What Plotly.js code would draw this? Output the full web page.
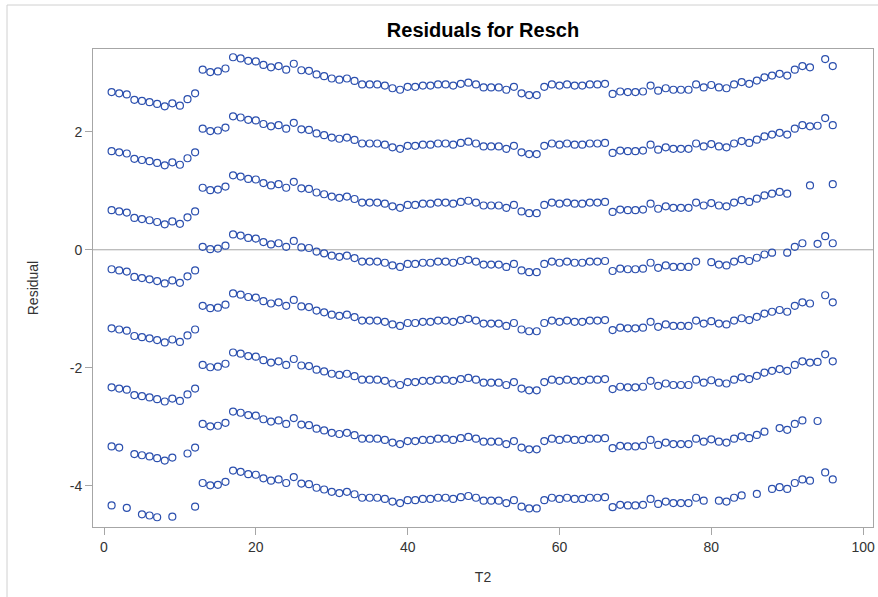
<!DOCTYPE html>
<html>
<head>
<meta charset="utf-8">
<script src="https://cdn.plot.ly/plotly-3.0.1.min.js"></script>
<style>
html,body{margin:0;padding:0;background:#fff;}
#chart{width:878px;height:597px;}
</style>
</head>
<body>
<div id="chart"></div>
<script>
// T2 values (x axis)
const t2 = [1,2,3,4,5,6,7,8,9,10,11,12,13,14,15,16,17,18,19,20,21,22,23,24,25,26,27,28,29,30,
  31,32,33,34,35,36,37,38,39,40,41,42,43,44,45,46,47,48,49,50,51,52,53,54,55,56,57,58,59,60,
  61,62,63,64,65,66,67,68,69,70,71,72,73,74,75,76,77,78,79,80,81,82,83,84,85,86,87,88,89,90,
  91,92,93,94,95,96];

// residual pattern of the band just below zero
const residualBase = [
  -0.33,-0.35,-0.37,-0.46,-0.48,-0.50,-0.53,-0.57,-0.52,-0.56,-0.45,-0.35,
  0.05,0.01,0.02,0.07,0.26,0.24,0.20,0.19,0.13,0.09,0.11,0.05,0.15,0.04,0.03,-0.03,-0.06,-0.10,
  -0.12,-0.10,-0.14,-0.20,-0.20,-0.20,-0.22,-0.265,-0.29,-0.24,
  -0.24,-0.22,-0.22,-0.20,-0.20,-0.22,-0.19,-0.17,-0.20,-0.25,-0.25,-0.25,-0.29,-0.24,-0.35,-0.38,-0.38,-0.24,-0.20,-0.22,
  -0.20,-0.22,-0.22,-0.20,-0.20,-0.19,-0.36,-0.32,-0.33,-0.33,-0.32,-0.22,-0.305,-0.265,-0.29,-0.29,-0.29,-0.20,-0.25,-0.21,
  -0.25,-0.265,-0.20,-0.16,-0.19,-0.135,-0.08,-0.05,-0.02,-0.05,0.05,0.11,0.09,0.10,0.23,0.11
];

// each residual band sits one unit from the next
const levelOffsets = [3, 2, 1, 0, -1, -2, -3, -4];

// T2 values absent from each band (top to bottom)
const missingByLevel = [
  [94],
  [],
  [91, 92, 94, 95],
  [79, 89, 93],
  [94],
  [],
  [3, 10, 88, 93, 95, 96],
  [2, 4, 8, 10, 11, 80, 85, 87, 94]
];

const yTickVals = [-4, -2, 0, 2];
const yTickText = ['-4', '-2', '0', '2'];
const xTickVals = [0, 20, 40, 60, 80, 100];

const markerColor = '#2b4fae';
const frameColor = '#a6a6a6';
const textColor = '#333333';
const fontFamily = '"Liberation Sans", Arial, sans-serif';

const traces = levelOffsets.map((off, i) => {
  const xs = [], ys = [];
  t2.forEach((t, j) => {
    if (missingByLevel[i].indexOf(t) === -1) {
      xs.push(t);
      ys.push(residualBase[j] + off);
    }
  });
  return {
    type: 'scatter',
    mode: 'markers',
    x: xs,
    y: ys,
    showlegend: false,
    hoverinfo: 'x+y',
    marker: {
      symbol: 'circle-open',
      size: 7,
      color: markerColor,
      line: {width: 1.2, color: markerColor}
    }
  };
});

const layout = {
  width: 878,
  height: 597,
  margin: {l: 93, r: 5, t: 49, b: 70, pad: 0},
  paper_bgcolor: '#ffffff',
  plot_bgcolor: '#ffffff',
  font: {family: fontFamily, color: textColor, size: 14},
  title: {
    text: '<b>Residuals for Resch</b>',
    font: {family: fontFamily, size: 20, color: '#000000'},
    x: 0.5, xref: 'paper', xanchor: 'center',
    y: 1 - 30 / 597, yref: 'container', yanchor: 'middle'
  },
  xaxis: {
    range: [-1.45, 101.3],
    tickvals: xTickVals,
    ticks: 'outside',
    ticklen: 7,
    tickwidth: 1,
    tickcolor: frameColor,
    showline: true,
    mirror: true,
    linecolor: frameColor,
    linewidth: 1,
    showgrid: false,
    zeroline: false,
    tickfont: {family: fontFamily, size: 14, color: textColor},
    title: {text: 'T2', font: {family: fontFamily, size: 14, color: textColor}, standoff: 18}
  },
  yaxis: {
    range: [-4.695, 3.40],
    tickvals: yTickVals,
    ticktext: yTickText,
    ticks: 'outside',
    ticklen: 7,
    tickwidth: 1,
    tickcolor: frameColor,
    showline: true,
    mirror: true,
    linecolor: frameColor,
    linewidth: 1,
    showgrid: false,
    zeroline: false,
    tickfont: {family: fontFamily, size: 14, color: textColor},
    title: {text: 'Residual', font: {family: fontFamily, size: 14, color: textColor}, standoff: 27}
  },
  shapes: [
    {type: 'line', xref: 'paper', yref: 'y', x0: 0, x1: 1, y0: 0, y1: 0,
     line: {color: frameColor, width: 1}, layer: 'below'},
    {type: 'line', xref: 'paper', yref: 'paper', x0: (7 - 93) / 780, x1: (7 - 93) / 780,
     y0: (527 - 5) / 478, y1: (527 - 600) / 478, line: {color: '#d0d0d0', width: 1}},
    {type: 'line', xref: 'paper', yref: 'paper', x0: (7 - 93) / 780, x1: (880 - 93) / 780,
     y0: (527 - 5) / 478, y1: (527 - 5) / 478, line: {color: '#d0d0d0', width: 1}}
  ]
};

Plotly.newPlot('chart', traces, layout, {displayModeBar: false, staticPlot: true});
</script>
</body>
</html>
